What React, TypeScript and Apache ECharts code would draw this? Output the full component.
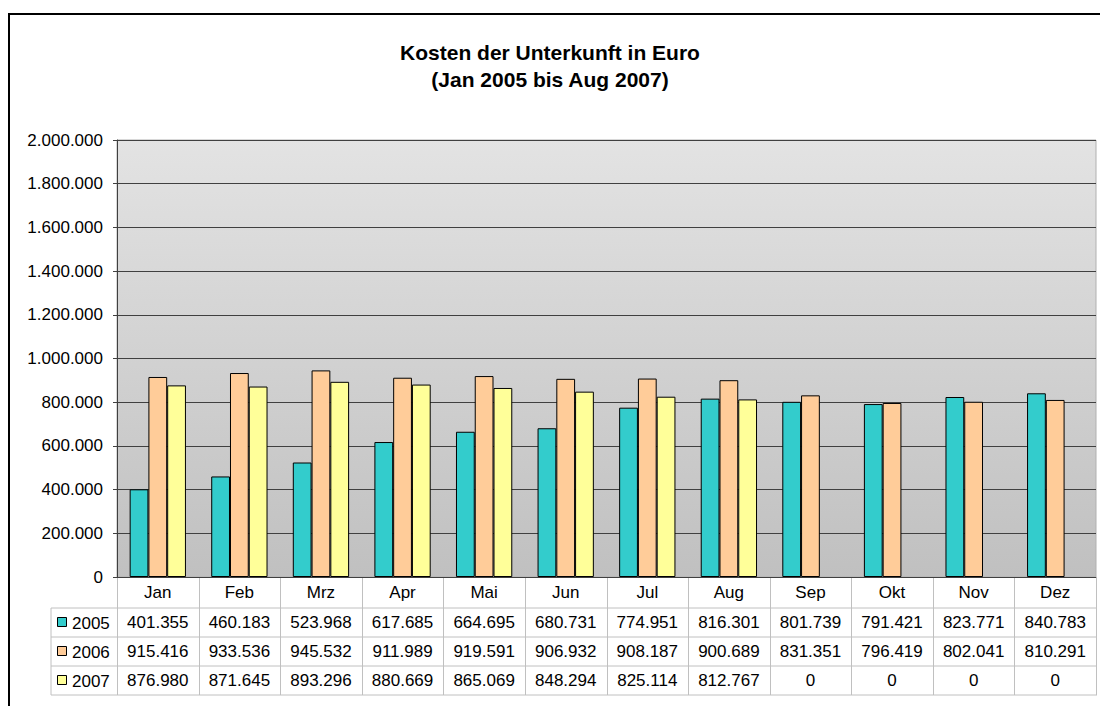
import React, { useEffect, useRef } from "react";
import * as echarts from "echarts";

const categories = ["Jan", "Feb", "Mrz", "Apr", "Mai", "Jun", "Jul", "Aug", "Sep", "Okt", "Nov", "Dez"];
const seriesNames = ["2005", "2006", "2007"];
const values2005 = [401355, 460183, 523968, 617685, 664695, 680731, 774951, 816301, 801739, 791421, 823771, 840783];
const values2006 = [915416, 933536, 945532, 911989, 919591, 906932, 908187, 900689, 831351, 796419, 802041, 810291];
const values2007 = [876980, 871645, 893296, 880669, 865069, 848294, 825114, 812767, 0, 0, 0, 0];
const colors = ["#33CCCC", "#FFCC99", "#FFFF99"];
const titleText = "Kosten der Unterkunft in Euro\n(Jan 2005 bis Aug 2007)";

const FONT = "'Liberation Sans', Arial, sans-serif";

function fmt(v: number): string {
  return String(Math.round(v)).replace(/\B(?=(\d{3})+(?!\d))/g, ".");
}

export default function App() {
  const ref = useRef<HTMLDivElement>(null);
  useEffect(() => {
    document.body.style.margin = "0";
    const chart = echarts.init(ref.current!, null, { renderer: "svg" });
    const W = 1100;
    const gridLeft = 117;
    const gridRight = 1096;
    const gridTop = 140;
    const gridBottom = 577;
    const allSeries = [values2005, values2006, values2007];

    chart.setOption({
      animation: false,
      title: {
        text: titleText,
        left: "center",
        top: 34,
        textStyle: { fontFamily: FONT, fontSize: 21, fontWeight: "bold", color: "#000", lineHeight: 27 },
      },
      grid: {
        left: gridLeft,
        top: gridTop,
        width: gridRight - gridLeft,
        height: gridBottom - gridTop,
        show: true,
        borderColor: "#b0b0b0",
        borderWidth: 1,
        backgroundColor: {
          type: "linear", x: 0, y: 0, x2: 0, y2: 1,
          colorStops: [
            { offset: 0, color: "#e3e3e3" },
            { offset: 1, color: "#c0c0c0" },
          ],
        },
      },
      xAxis: {
        type: "category",
        data: categories,
        axisLine: { show: true, lineStyle: { color: "#404040", width: 1 } },
        axisTick: { show: false },
        axisLabel: { fontFamily: FONT, fontSize: 17, color: "#000", margin: 7, lineHeight: 17 },
      },
      yAxis: {
        type: "value",
        min: 0,
        max: 2000000,
        interval: 200000,
        axisLine: { show: true, lineStyle: { color: "#404040", width: 1 } },
        axisTick: { show: true, length: 4, lineStyle: { color: "#404040" } },
        splitLine: { show: true, lineStyle: { color: "#404040", width: 1 } },
        axisLabel: { fontFamily: FONT, fontSize: 17, color: "#000", margin: 14, formatter: (v: number) => fmt(v) },
      },
      series: allSeries.map((vals, i) => ({
        name: seriesNames[i],
        type: "bar",
        data: vals.map((v) => (v === 0 ? "-" : v)),
        barGap: "0%",
        barCategoryGap: "31%",
        itemStyle: { color: colors[i], borderColor: "#000", borderWidth: 1 },
      })),
    });

    const colW = (gridRight - gridLeft) / categories.length;
    const headerTop = gridBottom + 1;
    const rowTop = 608;
    const rowH = 29;
    const tableBottom = rowTop + rowH * 3;
    const legendLeft = 51;
    const lineColor = "#c0c0c0";
    const elements: any[] = [];

    // outer frame
    elements.push({
      type: "rect",
      shape: { x: 9, y: 14, width: W + 50, height: 800 },
      style: { fill: "none", stroke: "#000", lineWidth: 2 },
      z: 100,
    });

    const hline = (x1: number, x2: number, y: number) =>
      elements.push({ type: "line", shape: { x1, y1: y, x2, y2: y }, style: { stroke: lineColor, lineWidth: 1 }, z: 50 });
    const vline = (x: number, y1: number, y2: number) =>
      elements.push({ type: "line", shape: { x1: x, y1, x2: x, y2 }, style: { stroke: lineColor, lineWidth: 1 }, z: 50 });

    hline(legendLeft, gridRight + 1, rowTop);
    hline(legendLeft, gridRight + 1, rowTop + rowH);
    hline(legendLeft, gridRight + 1, rowTop + rowH * 2);
    hline(legendLeft, gridRight + 1, tableBottom);
    vline(legendLeft, rowTop, tableBottom);
    for (let i = 0; i <= categories.length; i++) {
      const x = Math.round(gridLeft + i * colW) + 0.5;
      vline(i === categories.length ? gridRight + 0.5 : x, headerTop, tableBottom);
    }

    allSeries.forEach((vals, r) => {
      const cy = rowTop + rowH * r + rowH / 2;
      elements.push({
        type: "rect",
        shape: { x: 57.5, y: cy - 5, width: 9, height: 9 },
        style: { fill: colors[r], stroke: "#000", lineWidth: 1 },
        z: 60,
      });
      elements.push({
        type: "text",
        x: 72,
        y: cy + 1,
        style: { text: seriesNames[r], fontFamily: FONT, fontSize: 17, fill: "#000", align: "left", verticalAlign: "middle" },
        z: 60,
      });
      vals.forEach((v, c) => {
        elements.push({
          type: "text",
          x: gridLeft + (c + 0.5) * colW,
          y: cy,
          style: { text: fmt(v), fontFamily: FONT, fontSize: 17, fill: "#000", align: "center", verticalAlign: "middle" },
          z: 60,
        });
      });
    });

    chart.setOption({ graphic: { elements } });

    return () => chart.dispose();
  }, []);
  return <div ref={ref} style={{ width: 1100, height: 706 }} />;
}
